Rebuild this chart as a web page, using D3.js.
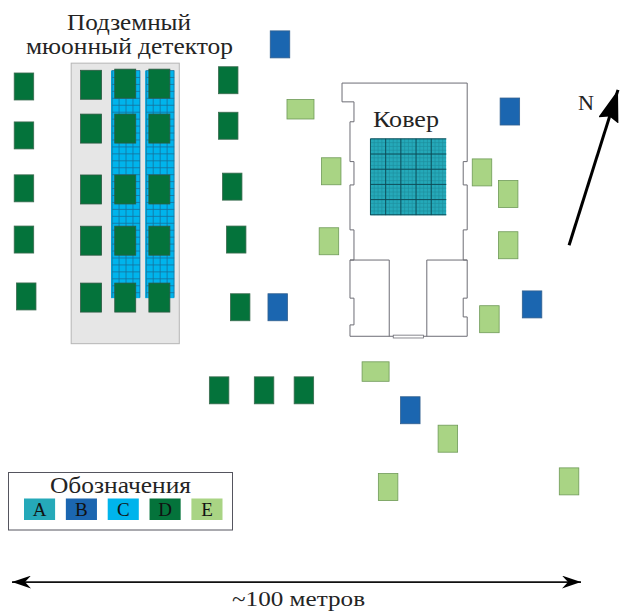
<!DOCTYPE html>
<html>
<head>
<meta charset="utf-8">
<script src="https://cdn.jsdelivr.net/npm/d3@7"></script>
<style>
  body { margin: 0; background: #fff; }
  svg { display: block; }
  text { font-family: "Liberation Serif", serif; fill: #222; opacity: 0.99; }
</style>
</head>
<body>
<div id="graf"></div>
<script>
// станции, координаты в метрах от левого края и от верха плана
var stD_x = [2.1,2.1,2.1,2.1,2.5, 13.9,13.9,13.9,13.9,13.9, 19.9,19.9,19.9,19.9,19.9, 25.9,25.9,25.9,25.9,25.9, 38.0,38.0,38.7,39.4,40.1, 36.4,44.3,51.3]
var stD_y = [15.2,23.8,33.1,42.1,52.1, 14.9,22.6,33.3,42.3,52.3, 14.7,22.6,33.3,42.3,52.3, 14.7,22.6,33.3,42.3,52.3, 14.1,22.1,32.8,42.1,54.0, 68.6,68.6,68.6]
var stB_x = [47.1,46.7,87.5,91.4,70.0]
var stB_y = [7.8,54.0,19.6,53.5,72.1]
var stE_x = [56.1,55.7,82.6,87.2,87.2,83.9,76.6,66.1,97.9]
var stE_y = [30.1,42.4,30.3,34.1,43.1,56.1,77.1,85.6,84.6]
var stE2_x = [50.7,63.9]   // лежачие
var stE2_y = [19.2,65.3]

// здание
var zdanie_x = [58.0,80.0,80.0,79.3,79.3,80.0,80.0,79.3,79.3,80.0,80.0,79.3,79.3,80.0,80.0,59.4,59.4,60.1,60.1,59.4,59.4,60.1,60.1,59.4,59.4,60.1,60.1,59.4,59.4,60.1,60.1,58.0,58.0]
var zdanie_y = [14.6,14.6,28.4,28.4,32.5,32.5,40.4,40.4,45.7,45.7,52.4,52.4,55.7,55.7,59.1,59.1,57.1,57.1,52.4,52.4,45.7,45.7,40.4,40.4,32.5,32.5,28.4,28.4,21.4,21.4,17.9,17.9,14.6]

var leyenda = ['A','B','C','D','E']
var colores = ['#25a9b9','#1b66b0','#00b4ec','#04733b','#a9d484']

var ancho_total = 620, alto_total = 612

var x = d3.scaleLinear().domain([0, 100]).range([12, 581])
var y = d3.scaleLinear().domain([0, 100]).range([0, 569])

var svg = d3.select('#graf').append('svg')
  .attr('width', ancho_total)
  .attr('height', alto_total)

var defs = svg.append('defs')
function punta(id, l, w, n){
  defs.append('marker')
    .attr('id', id)
    .attr('markerUnits', 'userSpaceOnUse')
    .attr('viewBox', `${-l} ${-w} ${l + 1} ${w * 2}`)
    .attr('refX', 0).attr('refY', 0)
    .attr('markerWidth', l + 1).attr('markerHeight', w * 2)
    .attr('orient', 'auto-start-reverse')
    .append('path')
      .attr('d', `M0,0L${-l},${-w}L${-l + n},0L${-l},${w}Z`)
      .attr('fill', '#000')
}
punta('flecha', 19, 6.5, 6)
punta('flechaN', 32, 10.5, 4)

// детектор мюонов
svg.append('rect')
  .attr('x', x(10.4)).attr('y', y(11.1))
  .attr('width', x(29.4) - x(10.4)).attr('height', y(60.4) - y(11.1))
  .attr('fill', '#e6e6e6').attr('stroke', '#b5b5b5').attr('stroke-width', 1)

function rejilla(x0, x1, y0, y1, paso, color, ancho){
  var g = svg.append('g').attr('stroke', color).attr('stroke-width', ancho)
  g.selectAll('.v').data(d3.range(x0, x1 + 0.01, paso)).enter().append('line')
    .attr('x1', d => x(d)).attr('x2', d => x(d)).attr('y1', y(y0)).attr('y2', y(y1))
  g.selectAll('.h').data(d3.range(y0, y1 + 0.01, paso)).enter().append('line')
    .attr('y1', d => y(d)).attr('y2', d => y(d)).attr('x1', x(x0)).attr('x2', x(x1))
}

;[17.4, 23.4].forEach(x0 => {
  svg.append('rect')
    .attr('x', x(x0)).attr('y', y(12.4))
    .attr('width', x(x0 + 5.1) - x(x0)).attr('height', y(52.4) - y(12.4))
    .attr('fill', colores[2])
  rejilla(x0 + 0.2, x0 + 5.1, 12.4, 52.3, 1.22, '#16719b', 0.8)
})

// здание
var linea = d3.line().x(d => x(d[0])).y(d => y(d[1]))
var gris = '#6d6d75'
svg.append('path')
  .attr('d', linea(d3.zip(zdanie_x, zdanie_y)))
  .attr('fill', 'none').attr('stroke', gris).attr('stroke-width', 1)
svg.append('path').attr('d', linea([[59.4,45.7],[66.3,45.7],[66.3,59.1]]))
  .attr('fill', 'none').attr('stroke', gris).attr('stroke-width', 1)
svg.append('path').attr('d', linea([[80.0,45.7],[72.9,45.7],[72.9,59.1]]))
  .attr('fill', 'none').attr('stroke', gris).attr('stroke-width', 1)
svg.append('rect')
  .attr('x', x(67.0)).attr('y', y(58.9))
  .attr('width', x(72.3) - x(67.0)).attr('height', y(59.4) - y(58.9))
  .attr('fill', '#fff').attr('stroke', gris).attr('stroke-width', 0.8)

// ковер
svg.append('rect')
  .attr('x', x(63.0)).attr('y', y(24.4))
  .attr('width', x(76.3) - x(63.0)).attr('height', y(37.8) - y(24.4))
  .attr('fill', colores[0])
rejilla(63.0, 76.3, 24.4, 37.8, 13.35 / 20, '#1e8d9c', 0.6)
rejilla(63.0, 76.32, 24.4, 37.8, 13.35 / 5, '#0c4854', 0.9)

// станции
function estaciones(xs, ys, color, w, h, borde){
  svg.append('g').selectAll('rect')
    .data(d3.zip(xs, ys))
    .enter().append('rect')
      .attr('x', d => x(d[0]) - w / 2)
      .attr('y', d => y(d[1]) - h / 2)
      .attr('width', w)
      .attr('height', h)
      .attr('fill', color)
      .attr('stroke', borde)
      .attr('stroke-width', 0.8)
}
estaciones(stD_x.slice(0, 5), stD_y.slice(0, 5), colores[3], 19.5, 27, '#3c6b50')
estaciones(stD_x.slice(5, 20), stD_y.slice(5, 20), colores[3], 21, 29, '#2f5a44')
estaciones(stD_x.slice(20), stD_y.slice(20), colores[3], 19.5, 27, '#3c6b50')
estaciones(stB_x, stB_y, colores[1], 19.5, 27, '#33608f')
estaciones(stE_x, stE_y, colores[4], 19.5, 27, '#6f9a58')
estaciones(stE2_x, stE2_y, colores[4], 27, 19.5, '#6f9a58')

// подписи
function texto(t, xp, yp, size, largo){
  var s = svg.append('text')
    .attr('x', xp).attr('y', yp)
    .attr('font-size', size + 'px')
    .text(t)
  if(largo) s.attr('textLength', largo).attr('lengthAdjust', 'spacingAndGlyphs')
  return s
}
texto('Подземный', 67, 30, 23, 124)
texto('мюонный детектор', 26, 54, 23, 207)
texto('Ковер', 373, 127, 23, 66)
texto('N', 578, 110, 20, 16)
texto('~100 метров', 232, 606, 22, 133)

// обозначения
svg.append('rect')
  .attr('x', 8.5).attr('y', 472.5).attr('width', 224).attr('height', 57.5)
  .attr('fill', '#fff').attr('stroke', '#55555f').attr('stroke-width', 1)
texto('Обозначения', 50, 493, 23, 141)

var xLeyenda = d3.scaleBand().domain(leyenda).range([24, 222.5]).paddingInner(0.257)
svg.selectAll('.sw').data(leyenda).enter().append('rect')
  .attr('class', 'sw')
  .attr('x', d => xLeyenda(d)).attr('y', 498.5)
  .attr('width', xLeyenda.bandwidth()).attr('height', 21.5)
  .attr('fill', (d, i) => colores[i])
svg.selectAll('.et').data(leyenda).enter().append('text')
  .attr('class', 'et')
  .attr('x', d => xLeyenda(d) + xLeyenda.bandwidth() / 2)
  .attr('y', 516)
  .attr('text-anchor', 'middle')
  .attr('font-size', '19px')
  .style('fill', '#111')
  .text(d => d)

// стрелки
svg.append('line')
  .attr('x1', x(0)).attr('x2', x(100)).attr('y1', y(102.3)).attr('y2', y(102.3))
  .attr('stroke', '#111').attr('stroke-width', 1.6)
  .attr('marker-start', 'url(#flecha)').attr('marker-end', 'url(#flecha)')
svg.append('line')
  .attr('x1', x(97.9)).attr('y1', y(43.1)).attr('x2', x(106.5)).attr('y2', y(15.8))
  .attr('stroke', '#000').attr('stroke-width', 3)
  .attr('marker-end', 'url(#flechaN)')
</script>
</body>
</html>
